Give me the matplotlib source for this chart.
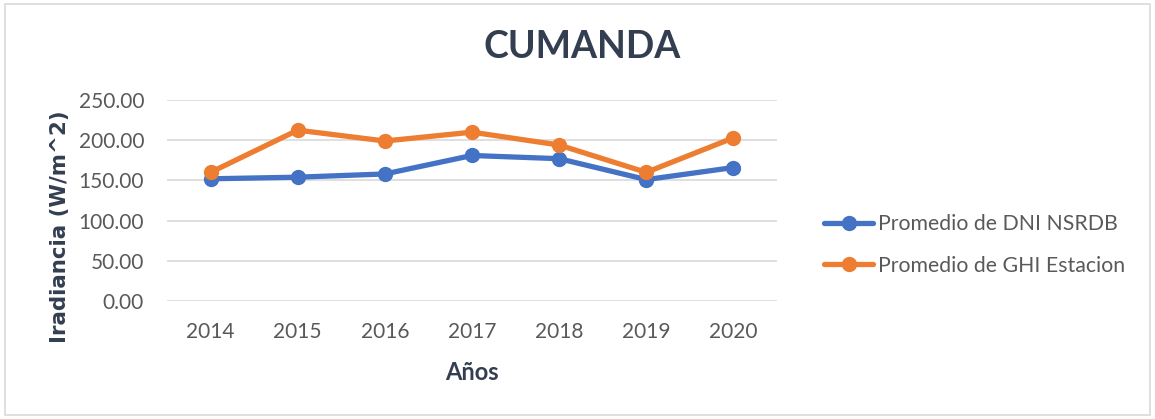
import matplotlib
matplotlib.use("Agg")
import matplotlib.pyplot as plt
from matplotlib.patches import Rectangle

years = ["2014", "2015", "2016", "2017", "2018", "2019", "2020"]
dni_nsrdb = [152.0, 154.0, 158.0, 181.0, 177.0, 151.0, 166.0]
ghi_estacion = [160.0, 212.5, 199.0, 210.0, 194.0, 160.0, 203.0]
y_ticks = [0, 50, 100, 150, 200, 250]

BLUE = "#4472C4"
ORANGE = "#ED7D31"
TEXT = "#595959"
NAVY = "#333F50"

plt.rcParams["font.family"] = ["Lato", "DejaVu Sans"]

fig = plt.figure(figsize=(11.55, 4.19), dpi=100)
fig.patches.append(Rectangle((0.004, 0.01), 0.992, 0.98, transform=fig.transFigure,
                             fill=False, edgecolor="#D9D9D9", linewidth=1.2))

ax = fig.add_axes([167 / 1155, 1 - 301 / 419, (777 - 167) / 1155, 201 / 419])
x = list(range(len(years)))
ax.plot(x, dni_nsrdb, color=BLUE, linewidth=3.8, marker="o", markersize=10,
        label="Promedio de DNI NSRDB", solid_capstyle="round", zorder=3)
ax.plot(x, ghi_estacion, color=ORANGE, linewidth=3.8, marker="o", markersize=10,
        label="Promedio de GHI Estacion", solid_capstyle="round", zorder=3)

ax.set_xlim(-0.5, 6.5)
ax.set_ylim(0, 250)
ax.set_yticks(y_ticks)
ax.set_yticklabels([f"{v:.2f}" for v in y_ticks])
ax.set_xticks(x)
ax.set_xticklabels(years)
ax.grid(axis="y", color="#D9D9D9", linewidth=1.2)
ax.set_axisbelow(True)
for s in ax.spines.values():
    s.set_visible(False)
ax.tick_params(length=0, labelsize=15, labelcolor=TEXT)
ax.tick_params(axis="x", pad=15)
ax.tick_params(axis="y", pad=16.5)

ax.set_xlabel("Años", fontsize=17, fontweight="bold", color=NAVY, labelpad=14)
ax.set_ylabel("Iradiancia (W/m^2)", fontsize=15.4, fontweight="bold", color=NAVY,
              family=["DejaVu Sans"])
ax.yaxis.set_label_coords(-(167 - 70) / 610, (301 - 227) / 201)

fig.text(582 / 1155, 1 - 47 / 419, "CUMANDA", ha="center", va="center",
         fontsize=27, fontweight="bold", color=NAVY)

fig.legend(loc="center left", bbox_to_anchor=(805 / 1155, 1 - 245 / 419), frameon=False,
           fontsize=15.3, labelcolor=TEXT, handlelength=2.3, handletextpad=0.25,
           labelspacing=1.0)

fig.savefig("out.png", dpi=100)
